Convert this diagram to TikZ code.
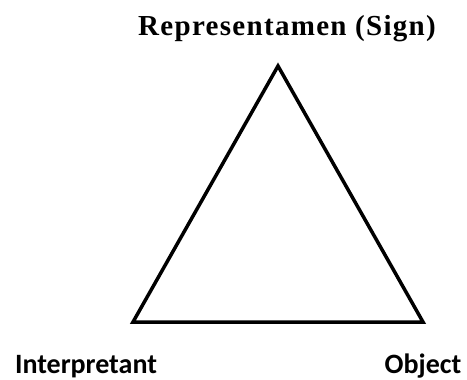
\documentclass[tikz,border=0pt]{standalone}
\usepackage{fontspec}
\newfontfamily\serifbold[LetterSpace=4.5]{Liberation Serif}
\newfontfamily\sansbold{Carlito}
\begin{document}
\begin{tikzpicture}[x=1pt,y=-1pt,
  toplabel/.style={anchor=base,inner sep=0pt,font=\serifbold\bfseries\fontsize{29}{32}\selectfont},
  cornerlabel/.style={anchor=base,inner sep=0pt,font=\sansbold\bfseries\fontsize{28}{32}\selectfont},
  edge/.style={draw=black,line width=3.5pt,line join=miter}]
\useasboundingbox (0,0) rectangle (467,380);
\coordinate (apex) at (278,66);
\coordinate (bl) at (133,322);
\coordinate (br) at (423,322);
\draw[edge] (apex) -- (bl) -- (br) -- cycle;
\node[toplabel] (sign) at (287,35) {Representamen (Sign)};
\node[cornerlabel] (interp) at (86,373.5) {Interpretant};
\node[cornerlabel] (obj) at (423,373.5) {Object};
\end{tikzpicture}
\end{document}
